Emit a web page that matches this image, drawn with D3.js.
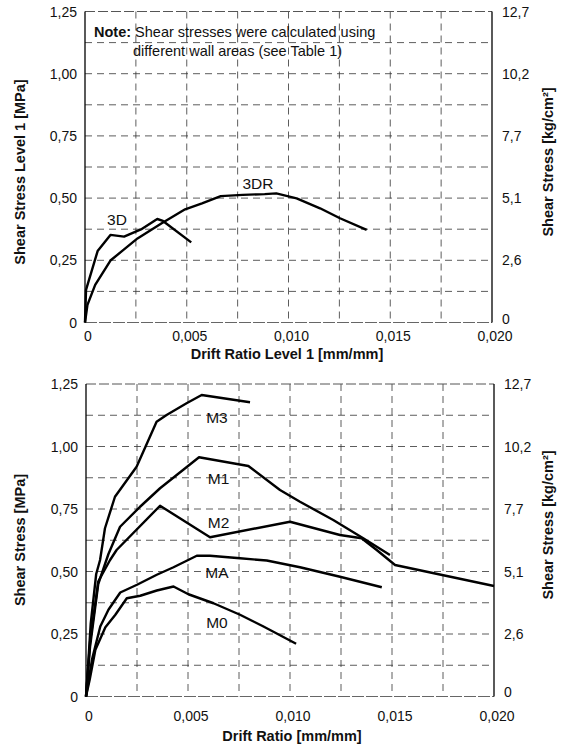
<!DOCTYPE html>
<html lang="en">
<head>
<meta charset="UTF-8">
<script src="https://d3js.org/d3.v7.min.js"></script>
<title>Shear Stress vs Drift Ratio</title>
<style>
  body { margin: 0; background: #fff; }
  svg { font-family: "Liberation Sans", Arial, sans-serif; }
  .grid line { stroke: #333; stroke-width: 0.8; stroke-dasharray: 7,5; }
  .curve { fill: none; stroke: #000; stroke-width: 2.4; stroke-linejoin: round; }
  .tick-label { font-size: 14px; fill: #111; }
  .axis-title { font-size: 14.5px; font-weight: bold; fill: #111; }
  .curve-label { font-size: 15.5px; fill: #111; }
</style>
</head>
<body>
<svg id="chart" width="565" height="747"></svg>
<script>
// tick values / labels
var xTicks = [0, 0.005, 0.010, 0.015, 0.020];
var xTickLabels = ["0", "0,005", "0,010", "0,015", "0,020"];
var yTicks = [0, 0.25, 0.50, 0.75, 1.00, 1.25];
var yTickLabels = ["0", "0,25", "0,50", "0,75", "1,00", "1,25"];
var yRightLabels = ["0", "2,6", "5,1", "7,7", "10,2", "12,7"];

// top panel: level 1
var s3D_x = [0, 0.00005, 0.00062, 0.00125, 0.00192, 0.00275, 0.00355, 0.00383, 0.00522];
var s3D_y = [0, 0.131, 0.287, 0.352, 0.345, 0.374, 0.416, 0.408, 0.322];
var s3DR_x = [0, 0.00012, 0.0005, 0.00125, 0.00192, 0.00258, 0.00375, 0.00492, 0.00575, 0.00667, 0.00775, 0.00883, 0.0094, 0.0104, 0.01155, 0.01253, 0.01384];
var s3DR_y = [0, 0.071, 0.151, 0.249, 0.294, 0.338, 0.398, 0.455, 0.479, 0.508, 0.513, 0.516, 0.519, 0.499, 0.459, 0.419, 0.372];

// bottom panel
var sM3_x = [0, 0.0001, 0.00023, 0.0005, 0.00069, 0.00093, 0.00142, 0.00248, 0.00346, 0.00395, 0.00493, 0.00567, 0.00804];
var sM3_y = [0, 0.12, 0.29, 0.49, 0.546, 0.673, 0.799, 0.919, 1.099, 1.126, 1.173, 1.206, 1.177];
var sM1_x = [0, 0.0002, 0.0006, 0.0011, 0.00167, 0.00265, 0.00363, 0.00554, 0.00796, 0.00951, 0.01049, 0.01212, 0.01359, 0.0149];
var sM1_y = [0, 0.20, 0.45, 0.57, 0.679, 0.759, 0.833, 0.957, 0.922, 0.826, 0.779, 0.706, 0.633, 0.566];
var sM2_x = [0, 0.0002, 0.0006, 0.00118, 0.0015, 0.00363, 0.00608, 0.0100, 0.01245, 0.01351, 0.01425, 0.01515, 0.0200];
var sM2_y = [0, 0.22, 0.46, 0.546, 0.586, 0.763, 0.637, 0.699, 0.646, 0.633, 0.586, 0.526, 0.442];
var sMA_x = [0, 0.0003, 0.0007, 0.0011, 0.00168, 0.0025, 0.00347, 0.00429, 0.00543, 0.00608, 0.00755, 0.00886, 0.01049, 0.01245, 0.0145];
var sMA_y = [0, 0.15, 0.28, 0.347, 0.416, 0.447, 0.487, 0.517, 0.563, 0.563, 0.553, 0.544, 0.517, 0.479, 0.437];
var sM0_x = [0, 0.00018, 0.00046, 0.00095, 0.00144, 0.0020, 0.00266, 0.00347, 0.00429, 0.00502, 0.00625, 0.00755, 0.0087, 0.0103];
var sM0_y = [0, 0.067, 0.187, 0.277, 0.327, 0.393, 0.403, 0.424, 0.44, 0.409, 0.373, 0.327, 0.28, 0.211];

var svg = d3.select("#chart");

function zip(xs, ys) { return xs.map(function(x, i) { return [x, ys[i]]; }); }

function drawPanel(p) {
  var x = d3.scaleLinear().domain([0, 0.02]).range([p.left, p.right]);
  var y = d3.scaleLinear().domain([0, 1.25]).range([p.bottom, p.top]);
  var g = svg.append("g");

  // grid
  var grid = g.append("g").attr("class", "grid");
  grid.selectAll(".v").data(d3.range(1, 8).map(function(i) { return i * 0.0025; }))
    .enter().append("line")
    .attr("x1", d => x(d)).attr("x2", d => x(d))
    .attr("y1", p.top).attr("y2", p.bottom);
  grid.selectAll(".h").data(d3.range(1, 10).map(function(i) { return i * 0.125; }))
    .enter().append("line")
    .attr("x1", p.left).attr("x2", p.right)
    .attr("y1", d => y(d)).attr("y2", d => y(d));
  // top and bottom frame, light dashed
  g.append("line").attr("x1", p.left).attr("x2", p.right).attr("y1", p.top).attr("y2", p.top)
    .attr("stroke", "#555").attr("stroke-width", 1).attr("stroke-dasharray", "10,3");
  g.append("line").attr("x1", p.left).attr("x2", p.right).attr("y1", p.bottom).attr("y2", p.bottom)
    .attr("stroke", "#666").attr("stroke-width", 1).attr("stroke-dasharray", "12,2");
  // left & right axes
  g.append("line").attr("x1", p.left).attr("x2", p.left).attr("y1", p.top).attr("y2", p.bottom)
    .attr("stroke", "#000").attr("stroke-width", 1.3);
  g.append("line").attr("x1", p.right).attr("x2", p.right).attr("y1", p.top).attr("y2", p.bottom)
    .attr("stroke", "#000").attr("stroke-width", 1.3);

  // tick labels
  g.selectAll(".xl").data(xTicks).enter().append("text")
    .attr("class", "tick-label").attr("text-anchor", "middle")
    .attr("x", d => x(d) + 3).attr("y", p.bottom + p.xLabelDy)
    .text((d, i) => xTickLabels[i]);
  g.selectAll(".yl").data(yTicks).enter().append("text")
    .attr("class", "tick-label").attr("text-anchor", "end")
    .attr("x", p.left - 8).attr("y", d => y(d) + 5)
    .text((d, i) => yTickLabels[i]);
  g.selectAll(".yr").data(yTicks).enter().append("text")
    .attr("class", "tick-label").attr("text-anchor", "start")
    .attr("x", p.right + 10)
    .attr("y", d => y(d) + (d === 0 ? p.rightZeroDy : 5))
    .text((d, i) => yRightLabels[i]);

  // titles
  g.append("text").attr("class", "axis-title").attr("text-anchor", "middle")
    .attr("x", p.xTitleX).attr("y", p.xTitleY).text(p.xTitle);
  g.append("text").attr("class", "axis-title").attr("text-anchor", "middle")
    .attr("transform", "translate(25," + p.yTitleY + ") rotate(-90)").text(p.yTitle);
  g.append("text").attr("class", "axis-title").attr("text-anchor", "middle")
    .attr("transform", "translate(553," + p.yRTitleY + ") rotate(-90)")
    .text("Shear Stress [kg/cm²]");

  // curves
  var line = d3.line().x(d => x(d[0])).y(d => y(d[1]));
  p.series.forEach(function(s) {
    g.append("path").attr("class", "curve").attr("d", line(zip(s.xs, s.ys)));
  });
  p.labels.forEach(function(l) {
    g.append("text").attr("class", "curve-label").attr("text-anchor", "middle")
      .attr("x", x(l.x)).attr("y", y(l.y) + 6).text(l.text);
  });
  return { x: x, y: y, g: g };
}

var top1 = drawPanel({
  left: 85, right: 492, top: 11.5, bottom: 322.5, xLabelDy: 18.5, rightZeroDy: 1,
  xTitle: "Drift Ratio Level 1 [mm/mm]", xTitleX: 287, xTitleY: 359,
  yTitle: "Shear Stress Level 1  [MPa]", yTitleY: 172, yRTitleY: 162,
  series: [{ xs: s3D_x, ys: s3D_y }, { xs: s3DR_x, ys: s3DR_y }],
  labels: [{ text: "3D", x: 0.00157, y: 0.415 }, { text: "3DR", x: 0.0085, y: 0.56 }]
});

// note box text
var note = top1.g.append("text").attr("font-size", 14.5).attr("fill", "#111");
note.append("tspan").attr("x", 94).attr("y", 37).attr("font-weight", "bold").text("Note:");
note.append("tspan").text(" Shear stresses were calculated using");
top1.g.append("text").attr("font-size", 14.5).attr("fill", "#111")
  .attr("x", 133).attr("y", 56).text("different wall areas (see Table 1)");

drawPanel({
  left: 86, right: 494, top: 384, bottom: 696.5, xLabelDy: 24, rightZeroDy: 0,
  xTitle: "Drift Ratio [mm/mm]", xTitleX: 292, xTitleY: 741,
  yTitle: "Shear Stress [MPa]", yTitleY: 540, yRTitleY: 525,
  series: [
    { xs: sM3_x, ys: sM3_y }, { xs: sM1_x, ys: sM1_y }, { xs: sM2_x, ys: sM2_y },
    { xs: sMA_x, ys: sMA_y }, { xs: sM0_x, ys: sM0_y }
  ],
  labels: [
    { text: "M3", x: 0.00642, y: 1.119 }, { text: "M1", x: 0.0065, y: 0.873 },
    { text: "M2", x: 0.0065, y: 0.699 }, { text: "MA", x: 0.00642, y: 0.499 },
    { text: "M0", x: 0.00642, y: 0.299 }
  ]
});
</script>
</body>
</html>
